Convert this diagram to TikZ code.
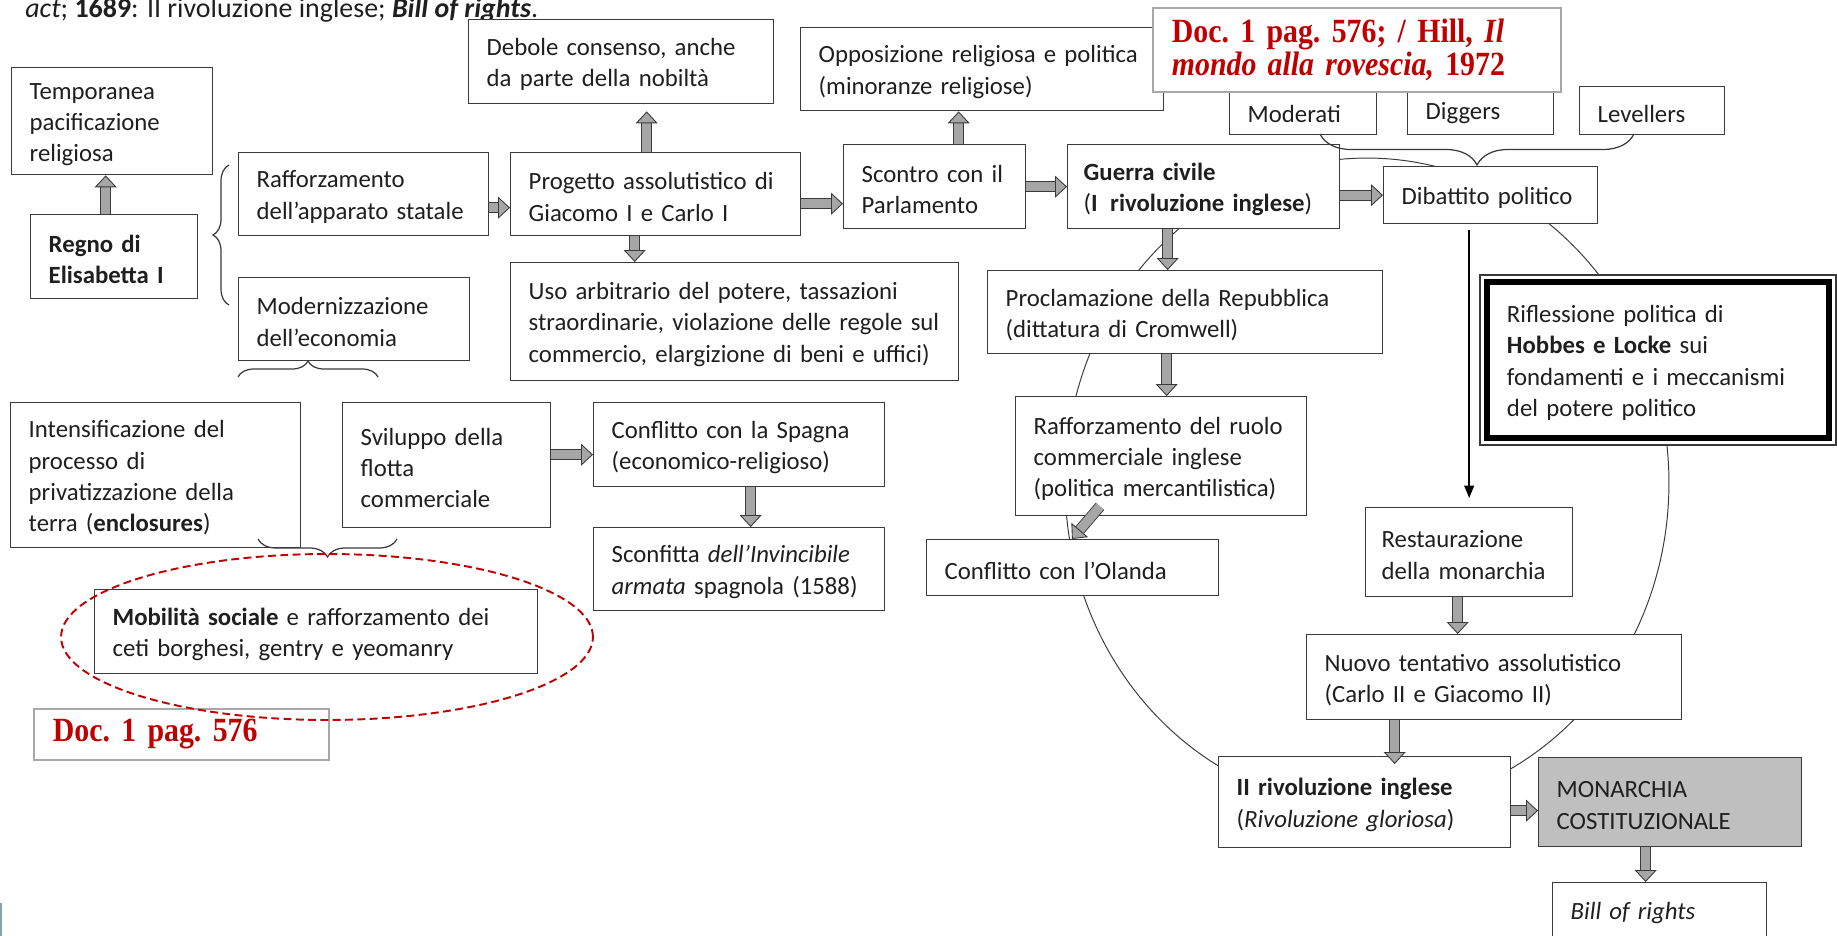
\documentclass[tikz,border=0pt]{standalone}
\usepackage{fontspec}
\setmainfont{Carlito}
\newfontfamily\docfont[FakeStretch=0.88]{Liberation Serif}
\usetikzlibrary{arrows.meta, decorations.pathreplacing, calc}
\definecolor{kText}{HTML}{1F1F1F}
\definecolor{kEdge}{HTML}{3A3A3A}
\definecolor{kArrow}{HTML}{A6A6A6}
\definecolor{kGrey}{HTML}{BFBFBF}
\definecolor{kRed}{HTML}{C00000}
\definecolor{kDoc}{HTML}{A8A8A8}
\definecolor{kSlide}{HTML}{7FA6AC}
\newcommand{\boxfont}{\fontsize{14.1}{17.8}\selectfont}
\newcommand{\docsize}{\fontsize{19.3}{18.8}\selectfont\frenchspacing}

\begin{document}
\begin{tikzpicture}[x=0.02cm, y=-0.02cm,
    box/.style={draw=kEdge, fill=white, line width=0.8pt, anchor=north west, align=left,
      inner xsep=0.36cm, inner ysep=0pt, text=kText, font=\boxfont,
      execute at begin node={\rule{0pt}{0.92em}}},
    docbox/.style={draw=kDoc, fill=white, line width=1pt, anchor=north west, align=left,
      inner xsep=0.38cm, inner ysep=0pt, text=kRed, font=\docfont\bfseries\docsize},
    fleche/.style={draw=kEdge, line width=0.5pt, double=kArrow, double distance=5.3pt,
      -{Triangle[length=6.8pt, width=12.5pt, fill=kArrow, line width=0.5pt]}},
    nera/.style={draw=black, line width=1pt, -{Triangle[length=7pt, width=5.5pt]}},
    graffa/.style={draw=kEdge, line width=0.7pt, decorate, decoration={brace, amplitude=#1}}]
  \useasboundingbox (0,0) rectangle (1837,936);
  \fill[white] (0,0) rectangle (1837,936);

  % the large ring behind the English revolution
  \coordinate (orbita) at (1367,483);
  \draw[kEdge, line width=0.55pt] (orbita) ellipse [x radius=6.04cm, y radius=6.5cm];

  \node[anchor=base west, inner sep=0pt, text=kText, font=\fontsize{15.9}{19}\selectfont] (intesta) at (25,18)
    {\textit{act}; \textbf{1689}: II rivoluzione inglese; \textbf{\textit{Bill of rights}}.};

  % Elisabetta
  \node[box, minimum width=4.02cm, minimum height=2.14cm, text width=3.30cm] (temp) at (11,67) {Temporanea\\pacificazione\\religiosa};
  \node[box, minimum width=3.34cm, minimum height=1.68cm, text width=2.62cm, font=\boxfont\bfseries] (regno) at (30,214) {Regno di\\Elisabetta I};
  \node[box, minimum width=5.00cm, minimum height=1.66cm, text width=4.28cm] (raffap) at (238,152) {Rafforzamento\\dell’apparato statale};
  \node[box, minimum width=4.62cm, minimum height=1.66cm, text width=3.90cm] (modern) at (238,277) {Modernizzazione\\dell’economia};
  \node[box, minimum width=5.80cm, minimum height=2.90cm, text width=5.08cm] (intens) at (10,402) {Intensificazione del\\processo di\\privatizzazione della\\terra (\textbf{enclosures})};
  \node[box, minimum width=4.16cm, minimum height=2.50cm, text width=3.44cm] (svil) at (342,402) {Sviluppo della\\flotta\\commerciale};
  \node[box, minimum width=8.86cm, minimum height=1.68cm, text width=8.14cm] (mobil) at (94,589) {\textbf{Mobilità sociale} e rafforzamento dei\\ceti borghesi, gentry e yeomanry};
  \node[box, minimum width=5.82cm, minimum height=1.68cm, text width=5.10cm] (spagna) at (593,402) {Conflitto con la Spagna\\(economico-religioso)};
  \node[box, minimum width=5.82cm, minimum height=1.66cm, text width=5.10cm] (sconfitta) at (593,527) {Sconfitta \textit{dell’Invincibile}\\\textit{armata} spagnola (1588)};

  % Stuart
  \node[box, minimum width=6.10cm, minimum height=1.68cm, text width=5.38cm] (debole) at (468,19) {Debole consenso, anche\\da parte della nobiltà};
  \node[box, minimum width=5.80cm, minimum height=1.66cm, text width=5.08cm] (progetto) at (510,152) {Progetto assolutistico di\\Giacomo I e Carlo I};
  \node[box, minimum width=8.96cm, minimum height=2.36cm, text width=8.24cm] (uso) at (510,262) {Uso arbitrario del potere, tassazioni\\straordinarie, violazione delle regole sul\\commercio, elargizione di beni e uffici)};
  \node[box, minimum width=7.26cm, minimum height=1.66cm, text width=6.54cm] (opposiz) at (800,27) {Opposizione religiosa e politica\\(minoranze religiose)};
  \node[box, minimum width=3.64cm, minimum height=1.68cm, text width=2.92cm] (scontro) at (843,144) {Scontro con il\\Parlamento};

  % revolution
  \node[box, minimum width=5.44cm, minimum height=1.68cm, text width=4.80cm, inner xsep=0.32cm] (guerra) at (1067,144) {\textbf{Guerra civile}\\(\textbf{I\enspace rivoluzione inglese})};
  \node[box, minimum width=4.28cm, minimum height=1.14cm, text width=3.56cm] (dib) at (1383,166) {Dibattito politico};
  \node[box, minimum width=2.94cm, minimum height=0.96cm, text width=2.22cm] (moderati) at (1229,86) {Moderati};
  \node[box, minimum width=2.92cm, minimum height=0.96cm, text width=2.20cm] (diggers) at (1407,86) {Diggers};
  \node[box, minimum width=2.90cm, minimum height=0.96cm, text width=2.18cm] (levellers) at (1579,86) {Levellers};
  \node[box, minimum width=7.90cm, minimum height=1.66cm, text width=7.18cm] (proclam) at (987,270) {Proclamazione della Repubblica\\(dittatura di Cromwell)};
  \node[box, minimum width=5.82cm, minimum height=2.38cm, text width=5.10cm] (raffruolo) at (1015,396) {Rafforzamento del ruolo\\commerciale inglese\\(politica mercantilistica)};
  \node[box, minimum width=5.84cm, minimum height=1.12cm, text width=5.12cm] (olanda) at (926,539) {Conflitto con l’Olanda};
  \node[box, draw=black, line width=3.4pt, minimum width=6.84cm, minimum height=3.12cm, text width=6.04cm, inner xsep=0.40cm,
    preaction={draw=kEdge, line width=0.304cm}, preaction={draw=white, line width=0.256cm}] (rifl) at (1484,279)
    {Riflessione politica di\\\textbf{Hobbes e Locke} sui\\fondamenti e i meccanismi\\del potere politico};
  \node[box, minimum width=4.14cm, minimum height=1.78cm, text width=3.50cm, inner xsep=0.32cm] (restaur) at (1365,507) {Restaurazione\\della monarchia};
  \node[box, minimum width=7.50cm, minimum height=1.70cm, text width=6.78cm] (nuovo) at (1306,634) {Nuovo tentativo assolutistico\\(Carlo II e Giacomo II)};
  \node[box, minimum width=5.84cm, minimum height=1.82cm, text width=5.12cm] (ilriv) at (1218,756) {\textbf{II rivoluzione inglese}\\(\textit{Rivoluzione gloriosa})};
  \node[box, fill=kGrey, minimum width=5.26cm, minimum height=1.78cm, text width=4.54cm] (monarchia) at (1538,757) {MONARCHIA\\COSTITUZIONALE};
  \node[box, minimum width=4.28cm, minimum height=1.12cm, text width=3.56cm] (bill) at (1552,882) {\textit{Bill of rights}};

  % block arrows
  \coordinate (s1) at ([xshift=-0.17cm]regno.north);
  \draw[fleche] (s1) -- (s1 |- temp.south);
  \coordinate (s2) at ([yshift=-0.27cm]raffap.east);
  \draw[fleche] (s2) -- (s2 -| progetto.west);
  \coordinate (s3) at ([xshift=-0.18cm]progetto.north);
  \draw[fleche, shorten >=0.14cm] (s3) -- (s3 |- debole.south);
  \coordinate (s4) at ([yshift=-0.19cm]progetto.east);
  \draw[fleche] (s4) -- (s4 -| scontro.west);
  \coordinate (s5) at ([xshift=0.48cm]scontro.north);
  \draw[fleche] (s5) -- (s5 |- opposiz.south);
  \draw[fleche] (scontro.east) -- (guerra.west);
  \coordinate (s7) at ([xshift=-0.42cm]progetto.south);
  \draw[fleche] (s7) -- (s7 |- uso.north);
  \draw[fleche] (dib.west -| guerra.east) -- (dib.west);
  \coordinate (s9) at ([xshift=-0.72cm]guerra.south);
  \draw[fleche] (s9) -- (s9 |- proclam.north);
  \coordinate (s10) at ([xshift=-0.37cm]proclam.south);
  \draw[fleche] (s10) -- (s10 |- raffruolo.north);
  \coordinate (s11) at ([xshift=1.7cm, yshift=0.2cm]raffruolo.south west);
  \coordinate (e11) at ([xshift=2.92cm]olanda.north west);
  \draw[fleche] (s11) -- (e11);
  \coordinate (s12) at ([yshift=-0.2cm]spagna.west);
  \draw[fleche] (s12 -| svil.east) -- (s12);
  \coordinate (s13) at ([xshift=0.23cm]spagna.south);
  \draw[fleche] (s13) -- (s13 |- sconfitta.north);
  \coordinate (s14) at ([xshift=-0.23cm]restaur.south);
  \draw[fleche] (s14) -- (s14 |- nuovo.north);
  \coordinate (s15) at ([xshift=-1.99cm]nuovo.south);
  \draw[fleche, shorten >=-0.16cm] (s15) -- (s15 |- ilriv.north);
  \coordinate (s16) at ([yshift=-0.17cm]ilriv.east);
  \draw[fleche] (s16) -- (s16 -| monarchia.west);
  \coordinate (s17) at ([xshift=-0.49cm]monarchia.south);
  \draw[fleche] (s17) -- (s17 |- bill.north);
  \coordinate (s18) at (restaur.north |- dib.south);
  \draw[nera, shorten <=0.12cm, shorten >=0.18cm] (s18) -- (restaur.north);

  % braces
  \draw[graffa=0.32cm] (229,305) -- (229,165);
  \draw[graffa=0.32cm] (238,377) -- (378,377);
  \draw[graffa=0.36cm] (397,539) -- (258,539);
  \draw[graffa=0.62cm] (1634,134) -- (1320,134);

  % sources
  \node[docbox, minimum width=8.16cm, minimum height=1.68cm, text width=7.40cm] (doctop) at (1152,7)
    {Doc. 1 pag. 576; / Hill, \textit{Il}\\\textit{mondo alla rovescia,} 1972};
  \node[docbox, minimum width=5.90cm, minimum height=1.02cm, text width=5.14cm] (docbot) at (33,708) {Doc. 1 pag. 576};

  \coordinate (cerchio) at (327,637);
  \draw[kRed, line width=1.1pt, dash pattern=on 4.5pt off 2.5pt] (cerchio) ellipse [x radius=5.32cm, y radius=1.66cm];
  \fill[kSlide] (0,903) rectangle (2.5,936);
\end{tikzpicture}
\end{document}
